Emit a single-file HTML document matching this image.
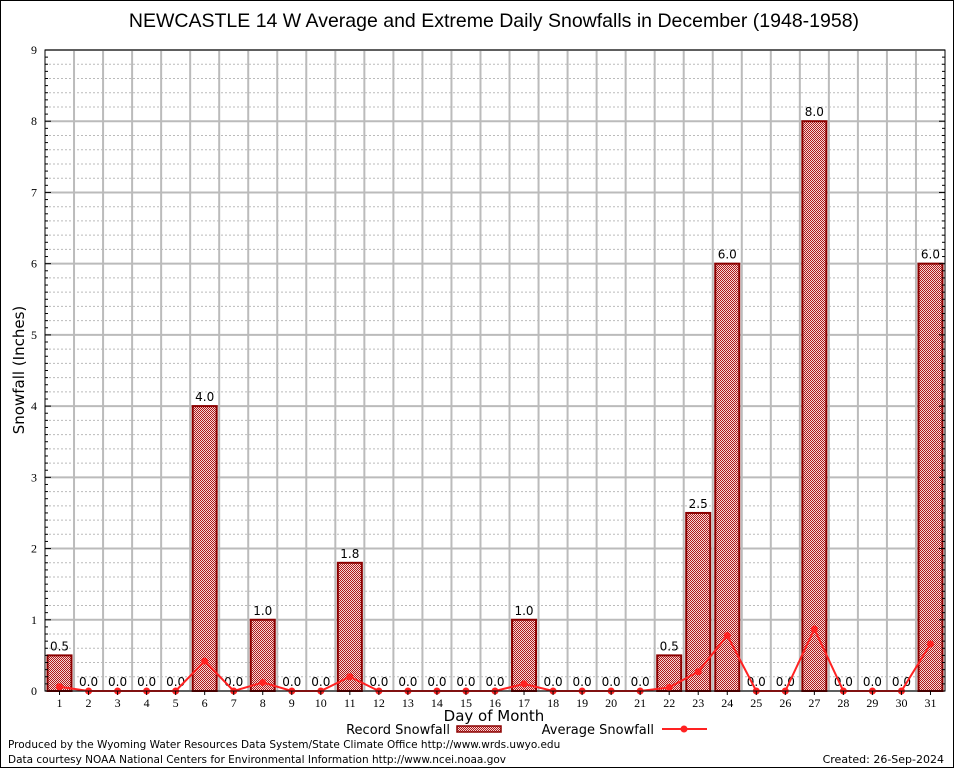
<!DOCTYPE html>
<html><head><meta charset="utf-8"><style>
body{margin:0;background:#fff}
svg{display:block;font-family:"DejaVu Sans","Liberation Sans",sans-serif}
</style></head><body>
<svg id="chart" width="954" height="768" viewBox="0 0 954 768">
<defs>
<pattern id="chk" width="2" height="2" patternUnits="userSpaceOnUse">
<rect width="2" height="2" fill="#f4d8d8"/><rect width="1" height="1" fill="#b01818"/><rect x="1" y="1" width="1" height="1" fill="#b01818"/>
</pattern>
</defs>
<rect x="0.5" y="0.5" width="953" height="767" fill="#fff" stroke="#000"/>
<text x="494" y="27" font-size="19.5" text-anchor="middle" font-family="Liberation Sans, sans-serif">NEWCASTLE 14 W Average and Extreme Daily Snowfalls in December (1948-1958)</text>
<g id="grid"></g>
<g id="bars"></g>
<g id="line"></g>
<g id="axes"></g>
<text x="24" y="370" font-size="15" text-anchor="middle" transform="rotate(-90 24 370)">Snowfall (Inches)</text>
<text x="494" y="721" font-size="15" text-anchor="middle">Day of Month</text>
<g>
<text x="450" y="734" font-size="13" text-anchor="end">Record Snowfall</text>
<rect x="457" y="726" width="44" height="6" fill="url(#chk)" stroke="#8b0000" stroke-width="1.5"/>
</g>
<g>
<text x="654" y="734" font-size="13" text-anchor="end">Average Snowfall</text>
<line x1="662" y1="729" x2="707" y2="729" stroke="#f22" stroke-width="2"/>
<circle cx="684" cy="729" r="3.5" fill="#f22"/>
</g>
<text x="8" y="748" font-size="10.5">Produced by the Wyoming Water Resources Data System/State Climate Office http://www.wrds.uwyo.edu</text>
<text x="8" y="763" font-size="10.5">Data courtesy NOAA National Centers for Environmental Information http://www.ncei.noaa.gov</text>
<text x="944" y="763" font-size="11" text-anchor="end">Created: 26-Sep-2024</text>
</svg>
<script>
const days=[1,2,3,4,5,6,7,8,9,10,11,12,13,14,15,16,17,18,19,20,21,22,23,24,25,26,27,28,29,30,31];
const recordSnow=[0.5,0,0,0,0,4.0,0,1.0,0,0,1.8,0,0,0,0,0,1.0,0,0,0,0,0.5,2.5,6.0,0,0,8.0,0,0,0,6.0];
const avgSnow=[0.06,0,0,0,0,0.42,0,0.12,0,0,0.2,0,0,0,0,0,0.1,0,0,0,0,0.05,0.27,0.78,0,0,0.87,0,0,0,0.66];
const yTicks=[0,1,2,3,4,5,6,7,8,9];
const L=45,R=945,T=50,B=691,YMAX=9;
const NS="http://www.w3.org/2000/svg";
const step=(R-L)/days.length;
function xC(i){return L+step*(i+0.5);}
function y(v){return B-(v/YMAX)*(B-T);}
function mk(tag,attrs,parent,txt){const e=document.createElementNS(NS,tag);for(const k in attrs)e.setAttribute(k,attrs[k]);if(txt!==undefined)e.textContent=txt;document.getElementById(parent).appendChild(e);return e;}
for(let v=0.2;v<YMAX;v+=0.2){if(Math.abs(v-Math.round(v))<0.01)continue;
const g=mk('line',{x1:L,x2:R,y1:y(v),y2:y(v),stroke:'#bbb','stroke-dasharray':'2,2','stroke-width':1},'grid');

}
yTicks.forEach(v=>{const g=mk('line',{x1:L,x2:R,y1:y(v),y2:y(v),stroke:'#bbb','stroke-width':2},'grid');

});
for(let i=1;i<days.length;i++){const g=mk('line',{x1:L+step*i,x2:L+step*i,y1:T,y2:B,stroke:'#bbb','stroke-width':2},'grid');

}
days.forEach((d,i)=>{const v=recordSnow[i];
if(v>0){const r=mk('rect',{x:xC(i)-12,y:y(v),width:24,height:B-y(v),fill:'url(#chk)',stroke:'#8b0000','stroke-width':2},'bars');

}
const t=mk('text',{x:xC(i),y:y(v)-5,'font-size':12,'text-anchor':'middle'},'bars',v.toFixed(1));

});
const pl=mk('polyline',{points:avgSnow.map((v,i)=>xC(i)+','+y(v)).join(' '),fill:'none',stroke:'#f22','stroke-width':2},'line');


avgSnow.forEach((v,i)=>{const c=mk('circle',{cx:xC(i),cy:y(v),r:3.5,fill:'#f22'},'line');

});
const fr=mk('rect',{x:L,y:T,width:R-L,height:B-T,fill:'none',stroke:'#000','stroke-width':1},'axes');


for(let v=0.1;v<YMAX;v+=0.1){const len=Math.abs(v-Math.round(v))<0.01?6:3;
mk('line',{x1:L,x2:L+len,y1:y(v),y2:y(v),stroke:'#000'},'axes');
mk('line',{x1:R,x2:R-len,y1:y(v),y2:y(v),stroke:'#000'},'axes');}
yTicks.forEach(v=>{const t=mk('text',{x:L-8,y:y(v)+4,'font-size':12,'text-anchor':'end','font-family':'Liberation Serif, serif'},'axes',String(v));

});
days.forEach((d,i)=>{mk('line',{x1:xC(i),x2:xC(i),y1:B,y2:B+4,stroke:'#000'},'axes');
const t=mk('text',{x:xC(i),y:B+16,'font-size':12,'text-anchor':'middle','font-family':'Liberation Serif, serif'},'axes',String(d));

});
</script>
</body></html>
